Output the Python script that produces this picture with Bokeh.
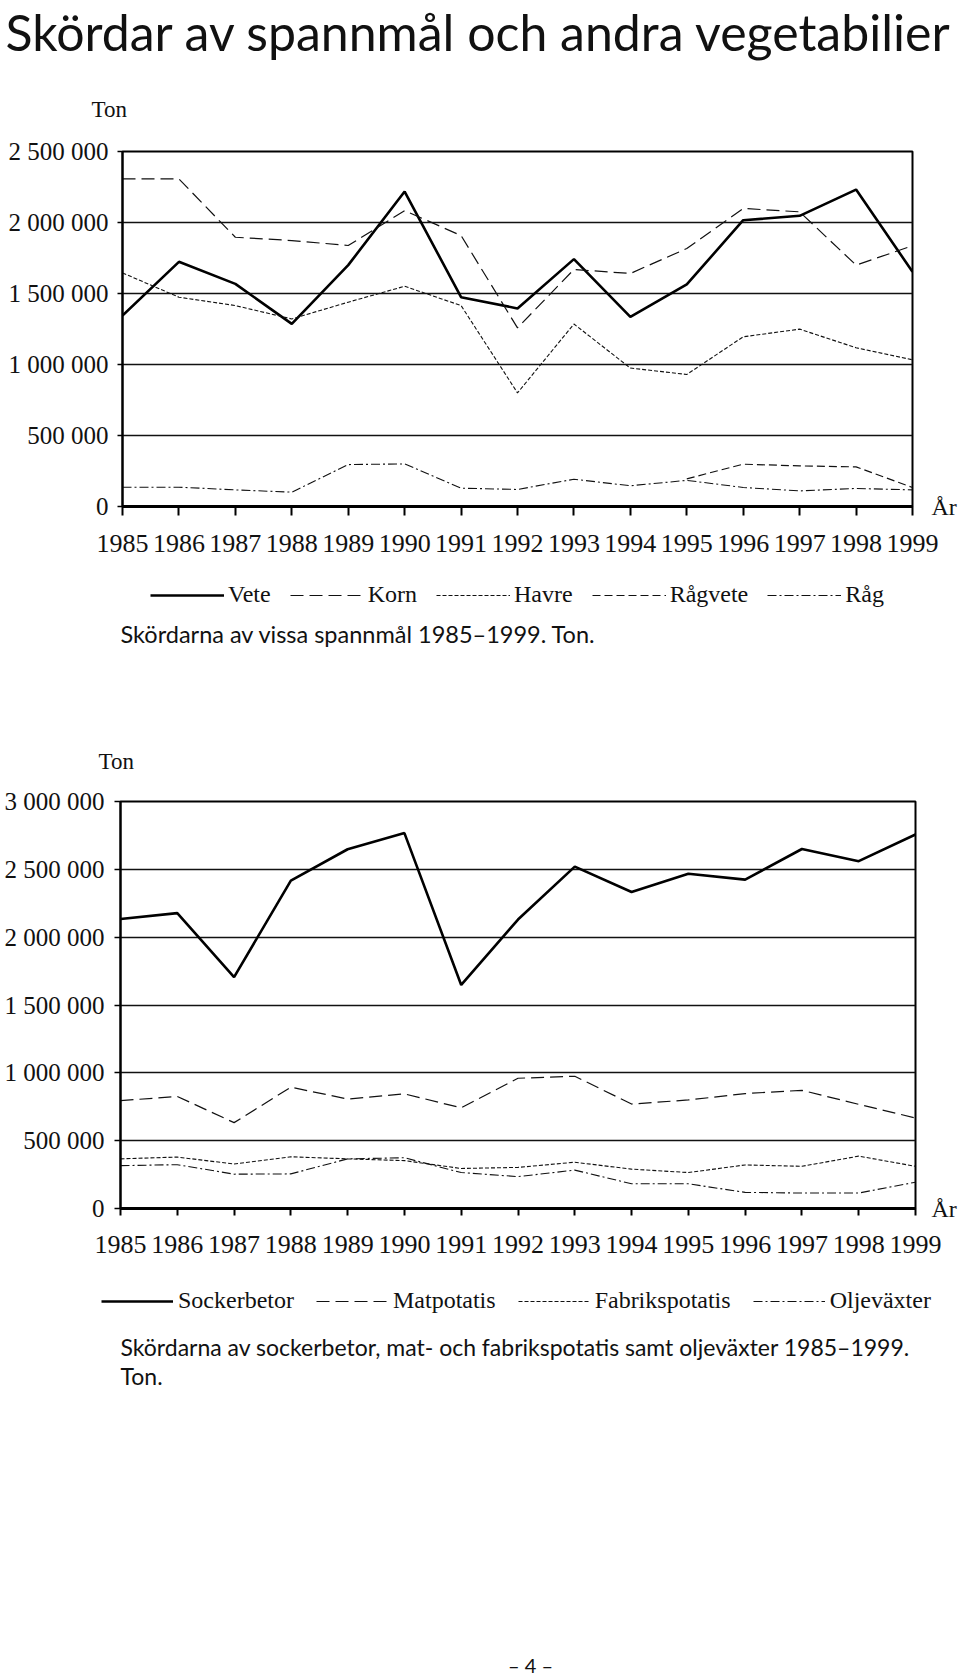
from bokeh.plotting import figure
from bokeh.models import Range1d, FixedTicker, Label, Legend, LegendItem, LinearAxis
from bokeh.layouts import column
from bokeh.embed import file_html
from bokeh.resources import INLINE

nan = float("nan")
years = list(range(1985, 2000))

# ---- Chart 1: cereals, tonnes ----
vete = [1345000, 1723000, 1568000, 1286000, 1700000, 2218000, 1474000, 1395000,
        1742000, 1336000, 1564000, 2016000, 2047000, 2232000, 1653000]
korn = [2307000, 2307000, 1896000, 1873000, 1838000, 2084000, 1908000, 1258000,
        1669000, 1641000, 1817000, 2099000, 2075000, 1700000, 1836000]
havre = [1645000, 1474000, 1415000, 1321000, 1439000, 1551000, 1415000, 800000,
         1285000, 975000, 930000, 1195000, 1249000, 1118000, 1033000]
ragvete = [nan, nan, nan, nan, nan, nan, nan, nan, nan, nan,
           195000, 298000, 286000, 279000, 134000]
rag = [136000, 136000, 117000, 101000, 295000, 300000, 129000, 120000,
       192000, 146000, 184000, 134000, 110000, 127000, 117000]
yticks1 = [0, 500000, 1000000, 1500000, 2000000, 2500000]
names1 = ["Vete", "Korn", "Havre", "Rågvete", "Råg"]

# ---- Chart 2: root crops and oilseeds, tonnes ----
sockerbetor = [2134000, 2177000, 1705000, 2417000, 2648000, 2767000, 1648000, 2130000,
               2520000, 2333000, 2467000, 2424000, 2650000, 2560000, 2757000]
matpotatis = [795000, 826000, 633000, 894000, 807000, 845000, 742000, 960000,
              975000, 770000, 800000, 847000, 871000, 768000, 667000]
fabrikspotatis = [366000, 379000, 328000, 381000, 366000, 353000, 295000, 303000,
                  341000, 290000, 265000, 321000, 311000, 386000, 311000]
oljevaxter = [316000, 323000, 253000, 255000, 366000, 374000, 265000, 235000,
              283000, 182000, 182000, 119000, 114000, 114000, 194000]
yticks2 = [0, 500000, 1000000, 1500000, 2000000, 2500000, 3000000]
names2 = ["Sockerbetor", "Matpotatis", "Fabrikspotatis", "Oljeväxter"]

TITLE = "Skördar av spannmål och andra vegetabilier"
CAP1 = "Skördarna av vissa spannmål 1985–1999. Ton."
CAP2a = "Skördarna av sockerbetor, mat- och fabrikspotatis samt oljeväxter 1985–1999."
CAP2b = "Ton."
UNIT = "Ton"
XUNIT = "År"
PAGE = "– 4 –"

SERIF = "Liberation Serif"
SANS = "Lato"
INK = "#111111"
W = 960

SOLID = dict(line_color="black", line_width=2.6)
LONG = dict(line_color=INK, line_width=1.2, line_dash="13 6")
SHORT = dict(line_color=INK, line_width=1.1, line_dash="4 2")
MEDIUM = dict(line_color=INK, line_width=1.2, line_dash="8 4")
DASHDOT = dict(line_color=INK, line_width=1.1, line_dash="9 3 2 3")


def spaced(v):
    return f"{v:,}".replace(",", " ")


def chart_fig(height, ymax, yticks, mbl, mbr, mbt, mbb, ytick_out, ystand, xtick_out, xstand, rstand):
    p = figure(width=W, height=height, x_range=Range1d(1985, 1999), y_range=Range1d(0, ymax),
               output_backend="svg", toolbar_location=None, frame_align=False,
               min_border_left=mbl, min_border_right=mbr, min_border_top=mbt, min_border_bottom=mbb)
    p.background_fill_color = "white"
    p.border_fill_color = "white"
    p.outline_line_color = "black"
    p.outline_line_width = 2
    p.xgrid.visible = False
    p.yaxis.ticker = FixedTicker(ticks=yticks)
    p.xaxis.ticker = FixedTicker(ticks=years)
    p.yaxis.major_label_overrides = {t: spaced(t) for t in yticks}
    p.ygrid.grid_line_color = INK
    p.ygrid.grid_line_width = 1.3
    for ax in (p.xaxis, p.yaxis):
        ax.minor_tick_line_color = None
        ax.axis_line_color = "black"
        ax.major_tick_line_color = "black"
        ax.major_tick_in = 0
        ax.major_label_text_font = SERIF
        ax.major_label_text_color = INK
    p.yaxis.axis_line_width = 2
    p.yaxis.major_tick_line_width = 1.5
    p.yaxis.major_tick_out = ytick_out
    p.yaxis.major_label_standoff = ystand
    p.yaxis.major_label_text_font_size = "25px"
    p.xaxis.axis_line_width = 3
    p.xaxis.major_tick_line_width = 2
    p.xaxis.major_tick_out = xtick_out
    p.xaxis.major_label_standoff = xstand
    p.xaxis.major_label_text_font_size = "26px"
    # "År" unit label at the end of the year axis
    r_ax = LinearAxis(ticker=FixedTicker(ticks=[0]), major_label_overrides={0: XUNIT},
                      axis_line_color=None, major_tick_line_color=None, minor_tick_line_color=None,
                      major_tick_in=0, major_tick_out=0, major_label_standoff=rstand,
                      major_label_text_font=SERIF, major_label_text_font_size="24px",
                      major_label_text_color=INK)
    p.add_layout(r_ax, "right")
    return p


def text_fig(height):
    p = figure(width=W, height=height, x_range=Range1d(0, 1), y_range=Range1d(0, 1),
               x_axis_type=None, y_axis_type=None, output_backend="svg", toolbar_location=None,
               frame_align=False,
               min_border_left=0, min_border_right=0, min_border_top=0, min_border_bottom=0)
    p.outline_line_color = None
    p.background_fill_color = "white"
    p.border_fill_color = "white"
    return p


def add_label(p, x, y, text, font, size, align="left"):
    p.add_layout(Label(x=x, y=y, x_units="screen", y_units="screen", text=text,
                       text_font=font, text_font_size=size, text_color=INK,
                       text_align=align, text_baseline="middle"))


def add_legend(p, names, styles, loc, glyph_w, standoff, spacing):
    items = []
    for name, st in zip(names, styles):
        r = p.line(x=[nan], y=[nan], **st)   # key sample only, no data drawn
        items.append(LegendItem(label=name, renderers=[r]))
    p.add_layout(Legend(items=items, location=loc, orientation="horizontal",
                        glyph_width=glyph_w, glyph_height=20, label_standoff=standoff,
                        spacing=spacing, padding=0, margin=0,
                        border_line_alpha=0, background_fill_alpha=0,
                        label_text_font=SERIF, label_text_font_size="24px",
                        label_text_color=INK))


# ---- A: page title + unit (page y 0..133) ----
fa = text_fig(133)
add_label(fa, 5, 102, TITLE, SANS, "50px")
add_label(fa, 91, 24, UNIT, SERIF, "23px")

# ---- B: chart 1 (page y 133..570) ----
p1 = chart_fig(437, 2500000, yticks1, 122, 48, 18, 64, 5, 9, 9, 19, 19)
p1.line(years, vete, **SOLID)
p1.line(years, korn, **LONG)
p1.line(years, havre, **SHORT)
p1.line(years, ragvete, **MEDIUM)
p1.line(years, rag, **DASHDOT)

# ---- C: legend 1, caption 1, unit of chart 2 (page y 570..783) ----
fc = text_fig(213)
add_legend(fc, names1, [SOLID, LONG, SHORT, MEDIUM, DASHDOT], (150, 175), 74, 4, 19)
add_label(fc, 120, 150, CAP1, SANS, "23.5px")
add_label(fc, 98, 22, UNIT, SERIF, "23px")

# ---- D: chart 2 (page y 783..1272) ----
p2 = chart_fig(489, 3000000, yticks2, 120, 45, 18, 64, 6, 10, 7, 20, 16)
p2.line(years, sockerbetor, **SOLID)
p2.line(years, matpotatis, **LONG)
p2.line(years, fabrikspotatis, **SHORT)
p2.line(years, oljevaxter, **DASHDOT)

# ---- E: legend 2, caption 2, page number (page y 1272..1677) ----
fe = text_fig(405)
add_legend(fe, names2, [SOLID, LONG, SHORT, DASHDOT], (101, 363), 72, 5, 22)
add_label(fe, 120, 331, CAP2a, SANS, "23px")
add_label(fe, 120, 302, CAP2b, SANS, "23px")
add_label(fe, 530, 13, PAGE, SANS, "20px", align="center")

layout = column(fa, p1, fc, p2, fe, spacing=0)
open("out.html", "w").write(file_html(layout, INLINE))
